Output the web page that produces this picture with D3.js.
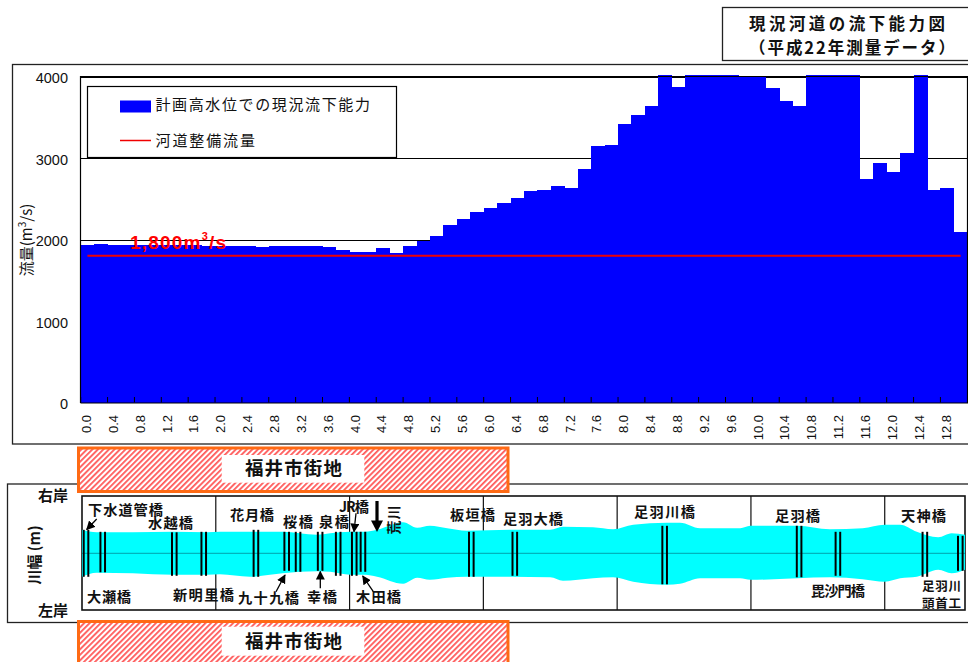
<!DOCTYPE html>
<html lang="ja"><head><meta charset="utf-8">
<script src="https://cdnjs.cloudflare.com/ajax/libs/d3/7.8.5/d3.min.js"></script>
<style>html,body{margin:0;padding:0;background:#fff;overflow:hidden}svg{display:block}
text{font-family:"Noto Sans CJK JP","Liberation Sans",sans-serif;fill:#111}
.num{font-family:"Liberation Sans",Arial,sans-serif}
.b{font-weight:700}</style></head><body><div id="c"></div>
<script>
// ---------- data ----------
const kmLabels = ["0.0","0.2","0.4","0.6","0.8","1.0","1.2","1.4","1.6","1.8","2.0","2.2","2.4","2.6","2.8","3.0","3.2","3.4","3.6","3.8","4.0","4.2","4.4","4.6","4.8","5.0","5.2","5.4","5.6","5.8","6.0","6.2","6.4","6.6","6.8","7.0","7.2","7.4","7.6","7.8","8.0","8.2","8.4","8.6","8.8","9.0","9.2","9.4","9.6","9.8","10.0","10.2","10.4","10.6","10.8","11.0","11.2","11.4","11.6","11.8","12.0","12.2","12.4","12.6","12.8","13.0"];
const capacity = [1932,1945,1932,1932,1932,1932,1932,1932,1932,1920,1920,1920,1920,1908,1920,1920,1920,1920,1908,1871,1846,1846,1896,1834,1920,1981,2043,2178,2252,2338,2387,2448,2509,2595,2607,2656,2632,2865,3147,3160,3417,3528,3638,4020,3871,4020,4020,4020,4020,4005,4005,3859,3699,3638,4020,4020,4020,4020,2742,2939,2828,3061,4020,2607,2632,2092];
const plannedFlow = 1800;
const yTicks = [0,1000,2000,3000,4000];
const gridKm = [2,4,6,8,10,12];
const riverKm   = [0,.22,.76,1.36,1.87,2.06,2.51,2.81,3.0,3.51,3.71,4.01,4.23,4.41,4.80,5.01,5.2,5.46,5.75,6.4,7.0,7.19,7.64,7.94,8.24,8.74,8.94,9.24,9.84,9.99,10.69,11.18,11.67,12.0,12.23,12.48,12.8,13.0,13.2];
const rightBank = [47,42,42,43,42,43,43,43,43,37,40,43,43,47,62,51,55,50,45,47,47,53,52,48,57,61,61,50,50,55,55,48,50,57,57,43,32,40,37];
const leftBank  = [47,39,40,43,43,42,47,43,40,36,37,43,43,47,61,49,53,49,47,47,48,55,50,48,57,63,61,50,50,53,50,48,52,57,50,47,33,40,33];
const bridgeKm    = [.06,.31,1.38,1.82,2.6,3.06,3.23,3.56,3.83,4.07,4.2,5.82,6.47,8.71,10.72,11.3,12.6,13.13];
const bridgeRight = [47,43,42,43,47,43,43,43,43,43,43,43,43,55,55,43,43,35];
const bridgeLeft  = [47,38,45,45,47,35,37,35,45,45,37,47,45,62,48,45,47,35];
const titleLines = ["現況河道の流下能力図","（平成22年測量データ）"];
const legendNames = ["計画高水位での現況流下能力","河道整備流量"];
const cityName = "福井市街地";

// ---------- layout ----------
const W=968,H=662;
const svg=d3.select("#c").append("svg").attr("width",W).attr("height",H).attr("viewBox",[0,0,W,H]);
const defs=svg.append("defs");
const pat=defs.append("pattern").attr("id","hatch").attr("width",3.9).attr("height",3.9)
  .attr("patternUnits","userSpaceOnUse").attr("patternTransform","rotate(45)");
pat.append("rect").attr("width",3.9).attr("height",3.9).attr("fill","#fff");
pat.append("rect").attr("width",1.8).attr("height",3.9).attr("fill","#ff5a5a");
const clip=defs.append("marker").attr("id","ah").attr("viewBox","0 0 10 10").attr("refX",9).attr("refY",5)
  .attr("markerWidth",9).attr("markerHeight",9).attr("markerUnits","userSpaceOnUse").attr("orient","auto");
clip.append("path").attr("d","M0,0L10,5L0,10Z").attr("fill","#000");

const rect=(x0,y0,x1,y1,o={})=>svg.append("rect").attr("x",x0).attr("y",y0).attr("width",x1-x0).attr("height",y1-y0)
  .attr("fill",o.fill||"none").attr("stroke",o.stroke||"none").attr("stroke-width",o.sw||1);
// span text: left/right extents are matched with textLength
function txt(s,x0,x1,cy,size,bold){
  return svg.append("text").attr("x",x0).attr("y",cy).attr("dy","0.36em").attr("font-size",size)
    .attr("textLength",x1-x0).attr("lengthAdjust","spacing").attr("class",bold?"b":null).text(s);
}

// outer frames
rect(12.5,64.5,W+5,444,{fill:"#fff",stroke:"#222",sw:1.3});
rect(722.5,7.5,W+5,60.5,{fill:"#fff",stroke:"#222",sw:1.3});
txt(titleLines[0],749,945,24.5,16.5,true);
txt(titleLines[1],749,955,48.5,16.5,true);

// ---------- upper chart ----------
const x=d3.scaleBand().domain(kmLabels).range([80.7,967.3]).padding(0);
const y=d3.scaleLinear().domain([0,4000]).range([402.5,76.5]);
const gGrid=svg.append("g").attr("stroke","#000").attr("stroke-width",1);
gGrid.selectAll("line").data(yTicks.filter(d=>d>0)).join("line")
  .attr("x1",80.7).attr("x2",967).attr("y1",d=>Math.round(y(d))+.5).attr("y2",d=>Math.round(y(d))+.5);
svg.append("g").attr("shape-rendering","crispEdges").selectAll("rect").data(capacity).join("rect")
  .attr("x",(d,i)=>x(kmLabels[i])).attr("width",x.bandwidth()+.5)
  .attr("y",d=>y(d)).attr("height",d=>y(0)-y(d)).attr("fill","#0000ff");
// plot frame
svg.append("path").attr("d",`M80.5,403V76.5H967.5V403H80.5`).attr("fill","none").attr("stroke","#000").attr("stroke-width",1.2);
// inward ticks between every second bar
svg.append("g").selectAll("line").data(kmLabels.filter((d,i)=>i%2==0)).join("line")
  .attr("x1",d=>x(d)).attr("x2",d=>x(d)).attr("y1",402.5).attr("y2",397).attr("stroke","#000");
// line
const line=d3.line().x(d=>x(d[0])+x.bandwidth()/2).y(d=>y(d[1]));
svg.append("path").attr("d",line(kmLabels.map(k=>[k,plannedFlow]))).attr("fill","none").attr("stroke","#f00000").attr("stroke-width",2);
// y labels
svg.append("g").selectAll("text").data(yTicks).join("text").attr("class","num")
  .attr("x",68).attr("y",d=>y(d)+1.5).attr("dy","0.36em").attr("text-anchor","end").attr("font-size",14.5).text(d=>d);
// x labels
svg.append("g").selectAll("text").data(kmLabels.filter((d,i)=>i%2==0)).join("text").attr("class","num")
  .attr("transform",d=>`translate(${x(d)+x.bandwidth()/2-1.2},415) rotate(-90)`)
  .attr("dy","0.36em").attr("text-anchor","end").attr("font-size",13).text(d=>d);
// y title
const yt=svg.append("text").attr("transform","translate(32,240) rotate(-90)").attr("text-anchor","middle").attr("font-size",15);
yt.append("tspan").text("流量(m");
yt.append("tspan").attr("font-size",10).attr("dy",-6).text("3");
yt.append("tspan").attr("dy",6).text("/s)");
// legend
rect(87.5,86.5,396.5,157.5,{fill:"#fff",stroke:"#000",sw:1.2});
svg.append("rect").attr("x",120).attr("y",100.5).attr("width",31).attr("height",12).attr("fill","#0000ff");
svg.append("line").attr("x1",120).attr("x2",151).attr("y1",140.5).attr("y2",140.5).attr("stroke","#f00000").attr("stroke-width",1.5);
txt(legendNames[0],155.5,370,105,15);
txt(legendNames[1],155.5,255,140.5,15);
// value label
const vl=svg.append("text").attr("class","num b").attr("x",130).attr("y",248.5).attr("font-size",19).attr("letter-spacing",1.2).style("fill","#ff0000");
vl.append("tspan").text("1,800m");
vl.append("tspan").attr("font-size",11).attr("dy",-9).text("3");
vl.append("tspan").attr("dy",9).text("/s");

// ---------- river plan ----------
rect(7.5,484,W+5,622.5,{fill:"#fff",stroke:"#222",sw:1.3});
const rx=d3.scaleLinear().domain([0,13.2]).range([82,965]);
const ry=d3.scaleLinear().domain([-114,114]).range([610.3,496.3]);
rect(82,496,965,610,{stroke:"#111",sw:1.6});
svg.append("g").selectAll("line").data(gridKm).join("line")
  .attr("x1",d=>rx(d)).attr("x2",d=>rx(d)).attr("y1",496).attr("y2",610).attr("stroke","#111").attr("stroke-width",1.2);
const area=d3.area().x((d,i)=>rx(riverKm[i])).y0((d,i)=>ry(-leftBank[i])).y1((d,i)=>ry(rightBank[i])).curve(d3.curveMonotoneX);
svg.append("path").attr("d",area(riverKm)).attr("fill","#00ffff");
svg.append("line").attr("x1",rx(0)).attr("x2",rx(13.2)).attr("y1",ry(0)).attr("y2",ry(0)).attr("stroke","#008c96").attr("stroke-width",.8);
// bridges (double lines)
const bg=svg.append("g").attr("stroke","#000").attr("stroke-width",2);
bridgeKm.forEach((k,i)=>{[-2.3,2.3].forEach(o=>{
  bg.append("line").attr("x1",rx(k)+o).attr("x2",rx(k)+o).attr("y1",ry(bridgeRight[i])).attr("y2",ry(-bridgeLeft[i]));
});});

// bank + axis labels
txt("右岸",38,68,495.7,15,true);
txt("左岸",38,68,610.7,15,true);
svg.append("text").attr("class","b").attr("transform","translate(35,555) rotate(-90)").attr("dy","0.36em")
  .attr("text-anchor","middle").attr("font-size",15).text("川幅 (m)");

// bridge labels: [name, left, right, centre y, size]
const labelSpots=[["下水道管橋",88,163,510,14.2],["水越橋",148,193,523,14.2],["大瀬橋",87,131,597,14.2],["新明里橋",173,234,595,14.2],
 ["花月橋",230,274,515,14.2],["九十九橋",238,299,598,14.2],["桜橋",283,313,522,14.2],["泉橋",319,349,522,14.2],["JR橋",339,369,507,14.2],
 ["板垣橋",450,495,515,14.2],["足羽大橋",503,563,519,14.2],["足羽川橋",634,695,512,14.2],["足羽橋",775,820,516,14.2],["毘沙門橋",811,865,591,14.2],
 ["天神橋",901,946,516,14.2],["足羽川",922,961,586,12.5],["頭首工",922,961,603,12.5],["木田橋",356,401,597,14.2],["幸橋",307,337,597,14.2]];
labelSpots.forEach(d=>txt(d[0],d[1],d[2],d[3],d[4],true));
// flow direction
svg.append("text").attr("class","b").attr("transform","translate(394,519.5) rotate(-90)").attr("dy","0.36em")
  .attr("text-anchor","middle").attr("font-size",14).attr("letter-spacing",1).text("荒川");
svg.append("line").attr("x1",377).attr("x2",377).attr("y1",501).attr("y2",522).attr("stroke","#000").attr("stroke-width",3.2);
svg.append("path").attr("d","M371,520.5H383L377,532Z").attr("fill","#000");
// leader arrows
[[96.7,519,86.7,529.5],[356,513.3,354,531.7],[276,591.7,285,575],[320.3,588.3,320.3,571.5],[373.3,591.7,362.7,576]]
 .forEach(a=>svg.append("line").attr("x1",a[0]).attr("y1",a[1]).attr("x2",a[2]).attr("y2",a[3])
   .attr("stroke","#000").attr("stroke-width",1.3).attr("marker-end","url(#ah)"));

// city bands
function band(y0,y1,wy0,wy1,cy){
  rect(78.5,y0,508,y1,{fill:"url(#hatch)",stroke:"#ff6a14",sw:3});
  rect(221.7,wy0,364.3,wy1,{fill:"#fff"});
  txt(cityName,245,342,cy,18.5,true);
}
band(448,491.5,455,482.7,468.5);
band(621.5,668,626.7,655.7,641);
</script></body></html>
